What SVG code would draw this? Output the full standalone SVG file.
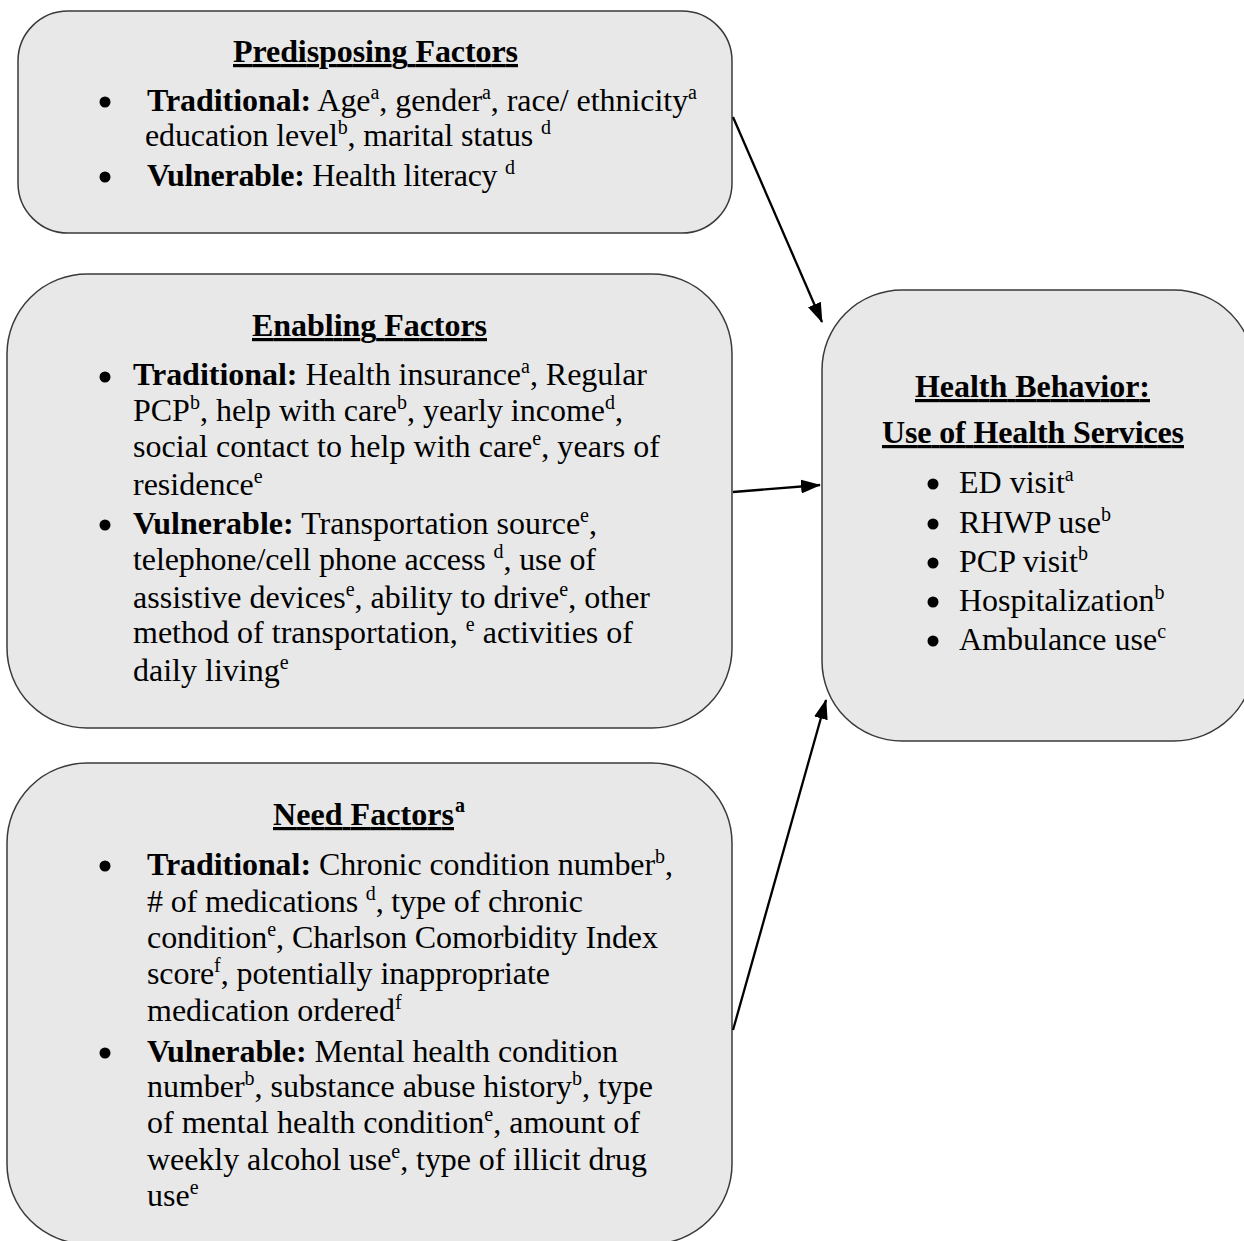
<svg xmlns="http://www.w3.org/2000/svg" width="1244" height="1241" viewBox="0 0 1244 1241">
<style>
.box{fill:#e8e8e8;stroke:#3a3a3a;stroke-width:1.5}
text{font-family:"Liberation Serif","Times New Roman",serif;fill:#000}
.t{font-size:32px}
.h{font-size:32px;font-weight:bold;text-decoration:underline}
.hs{font-size:20px;font-weight:bold}
.b{font-weight:bold}
.s{font-size:20px}
.dot{fill:#000}
.conn line{stroke:#000;stroke-width:2.3}
</style>
<defs>
<marker id="ah" viewBox="0 0 20 14" refX="19" refY="7" markerWidth="20" markerHeight="14" markerUnits="userSpaceOnUse" orient="auto">
<path d="M0,0 L20,7 L0,14 z" fill="#000"/>
</marker>
</defs>
<g id="predisposing">
<rect class="box" x="18" y="11" width="714" height="222" rx="50"/>
<text class="h" x="233" y="62" textLength="285" lengthAdjust="spacing">Predisposing Factors</text>
<circle class="dot" cx="105" cy="102" r="5.5"/>
<text class="t" x="147" y="111" textLength="550" lengthAdjust="spacing"><tspan class="b">Traditional:</tspan> Age<tspan class="s" dy="-12">a</tspan><tspan dy="12">, gender</tspan><tspan class="s" dy="-12">a</tspan><tspan dy="12">, race/ ethnicity</tspan><tspan class="s" dy="-12">a</tspan></text>
<text class="t" x="145" y="146" textLength="406" lengthAdjust="spacing">education level<tspan class="s" dy="-12">b</tspan><tspan dy="12">, marital status </tspan><tspan class="s" dy="-12">d</tspan></text>
<circle class="dot" cx="105" cy="177" r="5.5"/>
<text class="t" x="147" y="186" textLength="368" lengthAdjust="spacing"><tspan class="b">Vulnerable:</tspan> Health literacy <tspan class="s" dy="-12">d</tspan></text>
</g>
<g id="enabling">
<rect class="box" x="7" y="274" width="725" height="454" rx="80"/>
<text class="h" x="252" y="336" textLength="235" lengthAdjust="spacing">Enabling Factors</text>
<circle class="dot" cx="105" cy="377" r="5.5"/>
<text class="t" x="133" y="385" textLength="514" lengthAdjust="spacing"><tspan class="b">Traditional:</tspan> Health insurance<tspan class="s" dy="-12">a</tspan><tspan dy="12">, Regular</tspan></text>
<text class="t" x="133" y="421" textLength="490" lengthAdjust="spacing">PCP<tspan class="s" dy="-12">b</tspan><tspan dy="12">, help with care</tspan><tspan class="s" dy="-12">b</tspan><tspan dy="12">, yearly income</tspan><tspan class="s" dy="-12">d</tspan><tspan dy="12">,</tspan></text>
<text class="t" x="133" y="457" textLength="527" lengthAdjust="spacing">social contact to help with care<tspan class="s" dy="-12">e</tspan><tspan dy="12">, years of</tspan></text>
<text class="t" x="133" y="495">residence<tspan class="s" dy="-12">e</tspan></text>
<circle class="dot" cx="105" cy="525" r="5.5"/>
<text class="t" x="133" y="534" textLength="464" lengthAdjust="spacing"><tspan class="b">Vulnerable:</tspan> Transportation source<tspan class="s" dy="-12">e</tspan><tspan dy="12">,</tspan></text>
<text class="t" x="133" y="570" textLength="463" lengthAdjust="spacing">telephone/cell phone access <tspan class="s" dy="-12">d</tspan><tspan dy="12">, use of</tspan></text>
<text class="t" x="133" y="608" textLength="517" lengthAdjust="spacing">assistive devices<tspan class="s" dy="-12">e</tspan><tspan dy="12">, ability to drive</tspan><tspan class="s" dy="-12">e</tspan><tspan dy="12">, other</tspan></text>
<text class="t" x="133" y="643" textLength="500" lengthAdjust="spacing">method of transportation, <tspan class="s" dy="-12">e</tspan><tspan dy="12"> activities of</tspan></text>
<text class="t" x="133" y="681">daily living<tspan class="s" dy="-12">e</tspan></text>
</g>
<g id="need">
<rect class="box" x="7" y="763" width="725" height="481" rx="80"/>
<text class="h" x="273" y="825" textLength="181" lengthAdjust="spacing">Need Factors</text>
<text class="hs" x="455" y="812">a</text>
<circle class="dot" cx="105" cy="866" r="5.5"/>
<text class="t" x="147" y="875" textLength="526" lengthAdjust="spacing"><tspan class="b">Traditional:</tspan> Chronic condition number<tspan class="s" dy="-12">b</tspan><tspan dy="12">,</tspan></text>
<text class="t" x="147" y="912" textLength="436" lengthAdjust="spacing"># of medications <tspan class="s" dy="-12">d</tspan><tspan dy="12">, type of chronic</tspan></text>
<text class="t" x="147" y="948" textLength="511" lengthAdjust="spacing">condition<tspan class="s" dy="-12">e</tspan><tspan dy="12">, Charlson Comorbidity Index</tspan></text>
<text class="t" x="147" y="984" textLength="403" lengthAdjust="spacing">score<tspan class="s" dy="-12">f</tspan><tspan dy="12">, potentially inappropriate</tspan></text>
<text class="t" x="147" y="1021">medication ordered<tspan class="s" dy="-12">f</tspan></text>
<circle class="dot" cx="105" cy="1053" r="5.5"/>
<text class="t" x="147" y="1062" textLength="471" lengthAdjust="spacing"><tspan class="b">Vulnerable:</tspan> Mental health condition</text>
<text class="t" x="147" y="1097" textLength="506" lengthAdjust="spacing">number<tspan class="s" dy="-12">b</tspan><tspan dy="12">, substance abuse history</tspan><tspan class="s" dy="-12">b</tspan><tspan dy="12">, type</tspan></text>
<text class="t" x="147" y="1133" textLength="493" lengthAdjust="spacing">of mental health condition<tspan class="s" dy="-12">e</tspan><tspan dy="12">, amount of</tspan></text>
<text class="t" x="147" y="1170" textLength="500" lengthAdjust="spacing">weekly alcohol use<tspan class="s" dy="-12">e</tspan><tspan dy="12">, type of illicit drug</tspan></text>
<text class="t" x="147" y="1206">use<tspan class="s" dy="-12">e</tspan></text>
</g>
<g id="behavior">
<rect class="box" x="822" y="290" width="432" height="451" rx="80"/>
<text class="h" x="915" y="397" textLength="235" lengthAdjust="spacing">Health Behavior:</text>
<text class="h" x="882" y="443" textLength="302" lengthAdjust="spacing">Use of Health Services</text>
<circle class="dot" cx="933" cy="484" r="5.5"/>
<text class="t" x="959" y="493">ED visit<tspan class="s" dy="-12">a</tspan></text>
<circle class="dot" cx="933" cy="524" r="5.5"/>
<text class="t" x="959" y="533">RHWP use<tspan class="s" dy="-12">b</tspan></text>
<circle class="dot" cx="933" cy="563" r="5.5"/>
<text class="t" x="959" y="572">PCP visit<tspan class="s" dy="-12">b</tspan></text>
<circle class="dot" cx="933" cy="602" r="5.5"/>
<text class="t" x="959" y="611">Hospitalization<tspan class="s" dy="-12">b</tspan></text>
<circle class="dot" cx="933" cy="641" r="5.5"/>
<text class="t" x="959" y="650">Ambulance use<tspan class="s" dy="-12">c</tspan></text>
</g>
<g class="conn">
<line x1="733" y1="117" x2="822" y2="322" marker-end="url(#ah)"/>
<line x1="733" y1="492" x2="820" y2="485" marker-end="url(#ah)"/>
<line x1="733" y1="1030" x2="826" y2="700" marker-end="url(#ah)"/>
</g>
</svg>
